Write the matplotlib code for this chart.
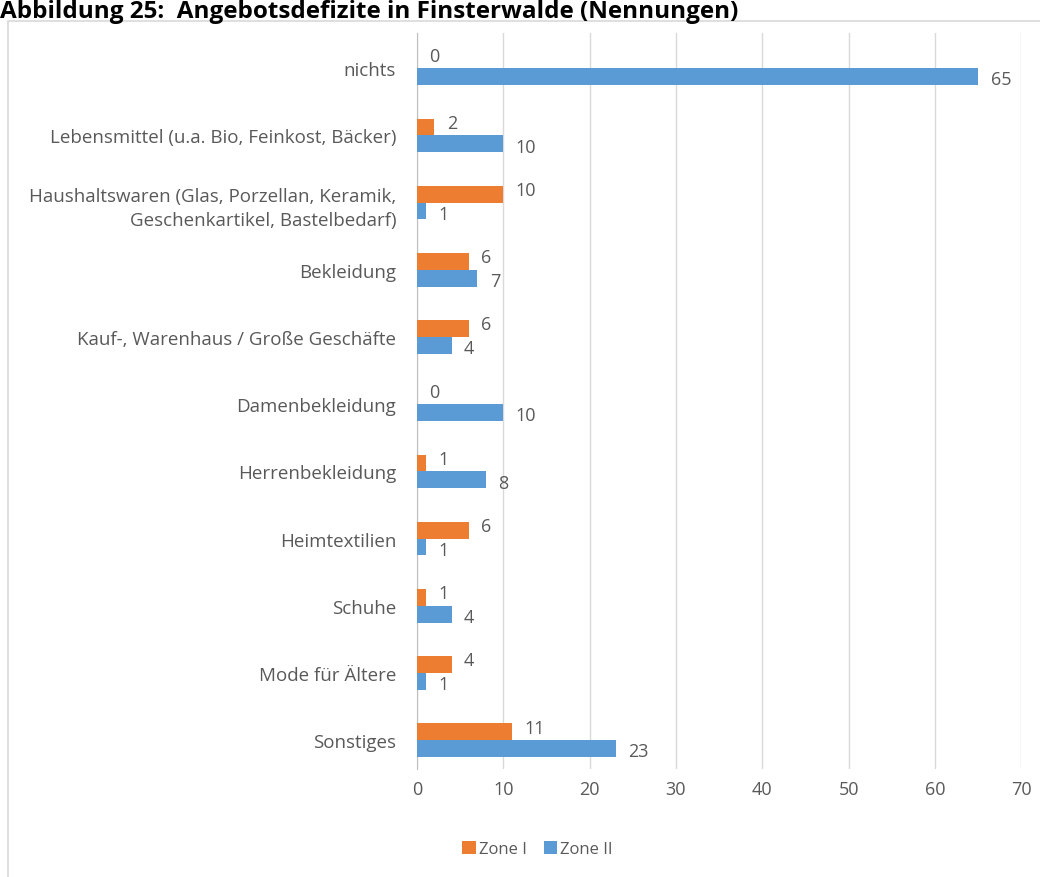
import numpy as np
import matplotlib.pyplot as plt
from matplotlib.patches import Rectangle

# Daten
kategorien = ["nichts",
              "Lebensmittel (u.a. Bio, Feinkost, Bäcker)",
              "Haushaltswaren (Glas, Porzellan, Keramik,\nGeschenkartikel, Bastelbedarf)",
              "Bekleidung",
              "Kauf-, Warenhaus / Große Geschäfte",
              "Damenbekleidung",
              "Herrenbekleidung",
              "Heimtextilien",
              "Schuhe",
              "Mode für Ältere",
              "Sonstiges"]
zone_1 = [0, 2, 10, 6, 6, 0, 1, 6, 1, 4, 11]
zone_2 = [65, 10, 1, 7, 4, 10, 8, 1, 4, 1, 23]
x_ticks = [0, 10, 20, 30, 40, 50, 60, 70]

orange = '#ED7D31'
blau = '#5B9BD5'
grau = '#595959'

plt.rcParams['font.family'] = ['Open Sans', 'DejaVu Sans']

fig = plt.figure(figsize=(10.4, 8.78), dpi=100)
ax = fig.add_axes([0.401, 0.123, 0.581, 0.838])

# Rahmen der Diagrammfläche
fig.patches.append(Rectangle((0.008, -0.01), 1.0, 0.985, transform=fig.transFigure,
                             fill=False, edgecolor='#D9D9D9', linewidth=1.2))

# Titel
fig.text(0.0, 1.0, "Abbildung 25:  Angebotsdefizite in Finsterwalde (Nennungen)",
         fontsize=17.5, fontweight='bold', color='black', ha='left', va='top')

y = np.arange(len(kategorien))
h = 0.25
ax.barh(y - h / 2, zone_1, height=h, color=orange, label='Zone I', zorder=3)
ax.barh(y + h / 2, zone_2, height=h, color=blau, label='Zone II', zorder=3)

for i in range(len(kategorien)):
    ax.annotate(str(zone_1[i]), (zone_1[i], y[i] - h / 2), xytext=(9, 3),
                textcoords='offset points', ha='left', va='center',
                fontsize=13, color=grau)
    ax.annotate(str(zone_2[i]), (zone_2[i], y[i] + h / 2), xytext=(9, -2),
                textcoords='offset points', ha='left', va='center',
                fontsize=13, color=grau)

ax.set_yticks(y)
ax.set_yticklabels(kategorien, fontsize=13.5, color=grau, linespacing=1.45)
ax.set_ylim(10.43, -0.52)
ax.set_xlim(0, 70)
ax.set_xticks(x_ticks)
ax.tick_params(axis='x', labelsize=13, labelcolor=grau, length=0, pad=8)
ax.tick_params(axis='y', length=0, pad=15)
ax.grid(axis='x', color='#D9D9D9', linewidth=1, zorder=0)
for s in ['top', 'right', 'bottom']:
    ax.spines[s].set_visible(False)
ax.spines['left'].set_color('#BFBFBF')

fig.legend(loc='center', bbox_to_anchor=(0.517, 0.032), ncol=2, frameon=False,
           fontsize=12, labelcolor=grau, handlelength=0.8, handleheight=0.8,
           handletextpad=0.2, columnspacing=1.0)

fig.savefig('out.png', dpi=100)
